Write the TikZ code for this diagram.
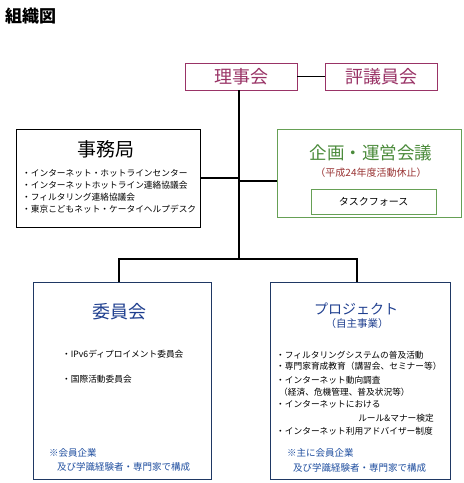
\documentclass[tikz,border=0pt]{standalone}
\usepackage{fontspec}
\setmainfont{Noto Sans CJK JP}
\definecolor{boardpink}{HTML}{993366}
\definecolor{planline}{HTML}{66A055}
\definecolor{plangreen}{HTML}{4A8A3A}
\definecolor{pausered}{HTML}{993333}
\definecolor{navyline}{HTML}{1F3864}
\definecolor{titleblue}{HTML}{1F3F8F}
\definecolor{noteblue}{HTML}{1F4E9F}
\begin{document}
\begin{tikzpicture}[
        x=1pt, y=-1pt, font=\fontsize{8.7}{10}\selectfont,
        frame/.style={draw, line width=0.8pt, inner sep=0pt},
        link/.style={line width=1.8pt},
        item/.style={anchor=west, inner sep=0pt},
        note/.style={anchor=west, inner sep=0pt, text=noteblue,
                     font=\fontsize{9.5}{11}\selectfont}]

  \useasboundingbox (0,0) rectangle (464,483);

  % heading ------------------------------------------------
  \node[item, font=\bfseries\fontsize{17}{17}\selectfont] (heading) at (5,16) {組織図};

  % boards -------------------------------------------------
  \node[frame, draw=boardpink, text=boardpink, minimum width=112pt, minimum height=27pt,
        font=\fontsize{18}{18}\selectfont] (riji) at (241,76.5) {理事会};
  \node[frame, draw=boardpink, text=boardpink, minimum width=112pt, minimum height=27pt,
        font=\fontsize{18}{18}\selectfont] (hyogi) at (381,76.5) {評議員会};

  % secretariat --------------------------------------------
  \node[frame, minimum width=184pt, minimum height=98pt] (jimu) at (108,178) {};
  \node[font=\fontsize{19}{19}\selectfont, inner sep=0pt] (jimutitle) at (106,149) {事務局};
  \node[item] (jimu1) at (22,173) {・インターネット・ホットラインセンター};
  \node[item] (jimu2) at (22,185) {・インターネットホットライン連絡協議会};
  \node[item] (jimu3) at (22,197) {・フィルタリング連絡協議会};
  \node[item] (jimu4) at (22,209) {・東京こどもネット・ケータイヘルプデスク};

  % planning council ---------------------------------------
  \node[frame, draw=planline, minimum width=184pt, minimum height=88pt] (kikaku) at (369,173) {};
  \node[text=plangreen, font=\fontsize{17.5}{18}\selectfont, inner sep=0pt] (kikakutitle)
        at (371,153) {企画・運営会議};
  \node[text=pausered, font=\fontsize{10}{11}\selectfont, inner sep=0pt] (pause)
        at (371,173) {（平成24年度活動休止）};
  \node[frame, draw=planline, minimum width=125pt, minimum height=25pt,
        font=\fontsize{10}{11}\selectfont] (task) at (373.5,201.5) {タスクフォース};

  % committees ---------------------------------------------
  \node[frame, draw=navyline, minimum width=178pt, minimum height=197pt] (iinkai) at (122,380.5) {};
  \node[text=titleblue, font=\fontsize{18}{18}\selectfont, inner sep=0pt] (iinkaititle)
        at (119.5,312) {委員会};
  \node[item] (iinkai1) at (62,354) {・IPv6ディプロイメント委員会};
  \node[item] (iinkai2) at (62,379) {・国際活動委員会};
  \node[note] (iinkainote1) at (49,453) {※会員企業};
  \node[note] (iinkainote2) at (57,467) {及び学識経験者・専門家で構成};

  % projects -----------------------------------------------
  \node[frame, draw=navyline, minimum width=180pt, minimum height=197pt] (project) at (360,380.5) {};
  \node[text=titleblue, font=\fontsize{14}{14}\selectfont, inner sep=0pt] (projecttitle)
        at (356,309) {プロジェクト};
  \node[text=titleblue, font=\fontsize{10.5}{11}\selectfont, inner sep=0pt] (projectsub)
        at (357,324) {（自主事業）};
  \node[item] (project1) at (276,355) {・フィルタリングシステムの普及活動};
  \node[item] (project2) at (276,366) {・専門家育成教育（講習会、セミナー等）};
  \node[item] (project3) at (276,380) {・インターネット動向調査};
  \node[item] (project3b) at (279,392) {（経済、危機管理、普及状況等）};
  \node[item] (project4) at (276,404) {・インターネットにおける};
  \node[anchor=east, inner sep=0pt] (project4b) at (434,418) {ルール\&マナー検定};
  \node[item] (project5) at (276,431) {・インターネット利用アドバイザー制度};
  \node[note] (projectnote1) at (287,453) {※主に会員企業};
  \node[note] (projectnote2) at (293,468) {及び学識経験者・専門家で構成};

  % connectors ---------------------------------------------
  \coordinate (trunk) at (239,259);
  \draw[link] (riji) -- (hyogi);
  \draw[link] (riji.south -| trunk) -- (trunk);
  \draw[link] (jimu.east) -- (jimu.east -| trunk);
  \draw[link] ([yshift=-8pt]kikaku.west) -- ([yshift=-8pt]kikaku.west -| trunk);
  \draw[link] ([xshift=-3pt]iinkai.north) |- (trunk) -| ([xshift=-3pt]project.north);

\end{tikzpicture}
\end{document}
